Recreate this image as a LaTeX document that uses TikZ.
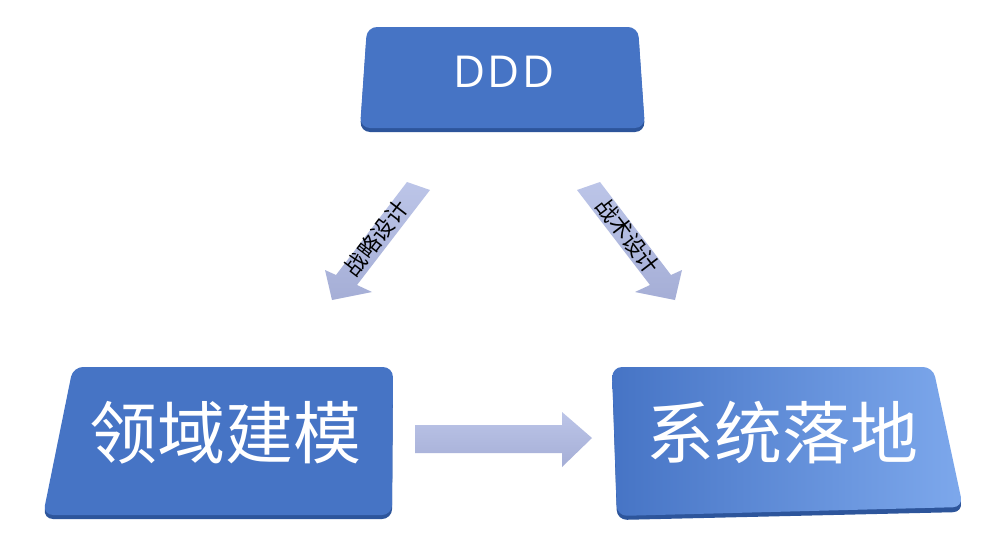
\documentclass[tikz,border=0pt]{standalone}
\usepackage{fontspec}
\setmainfont{Noto Sans CJK SC}
\newfontfamily\latinfont[LetterSpace=6]{Open Sans}
\definecolor{boxblue}{RGB}{70,116,197}
\definecolor{boxdark}{RGB}{45,85,155}
\definecolor{boxlight}{RGB}{125,168,236}
\definecolor{arrowtop}{RGB}{188,197,232}
\definecolor{arrowbot}{RGB}{165,174,214}
\begin{document}
\begin{tikzpicture}[x=1pt,y=-1pt,
  boxshape/.style={rounded corners=10pt},
  boxshadow/.style={fill=boxdark,rounded corners=10pt},
  blockarrow/.style={top color=arrowtop,bottom color=arrowbot,draw=none},
  boxtext/.style={text=white,inner sep=0pt,font=\fontsize{68}{68}\selectfont},
  arrowtext/.style={text=black,inner sep=0pt,font=\fontsize{22}{22}\selectfont}]
\useasboundingbox (0,0) rectangle (994,541);
\fill[white] (0,0) rectangle (994,541);
% DDD box
\fill[boxshadow] (367,30) -- (638,30) -- (645,132) -- (360,132) -- cycle;
\fill[boxblue,boxshape] (367,27) -- (638,27) -- (645,128) -- (360,128) -- cycle;
\node[text=white,inner sep=0pt,font=\latinfont\fontsize{44}{44}\selectfont] (ddd) at (504,72) {DDD};
% domain box
\fill[boxshadow] (73,370) -- (393,370) -- (392,519) -- (43,519) -- cycle;
\fill[boxblue,boxshape] (73,367) -- (393,367) -- (392,515) -- (43,515) -- cycle;
\node[boxtext] (domain) at (225,433) {领域建模};
% system box
\fill[boxshadow] (612,370) -- (933,370) -- (963,512) -- (617,520) -- cycle;
\shade[left color=boxblue,right color=boxlight,boxshape] (612,367) -- (933,367) -- (963,507) -- (617,516) -- cycle;
\node[boxtext] (system) at (782,433) {系统落地};
% arrows
\shade[blockarrow] (407,182) -- (336,275) -- (325,270) -- (332,300) -- (372,292) -- (357,285) -- (430,190) -- cycle;
\node[arrowtext,rotate=52.6] (strategy) at (376,238) {战略设计};
\shade[blockarrow] (600,182) -- (671,275) -- (682,270) -- (675,300) -- (635,292) -- (650,285) -- (577,190) -- cycle;
\node[arrowtext,rotate=-52.6] (tactic) at (628,236) {战术设计};
\shade[blockarrow] (415,425) -- (562,425) -- (562,412) -- (592,438) -- (562,467) -- (562,453) -- (415,453) -- cycle;
\end{tikzpicture}
\end{document}
